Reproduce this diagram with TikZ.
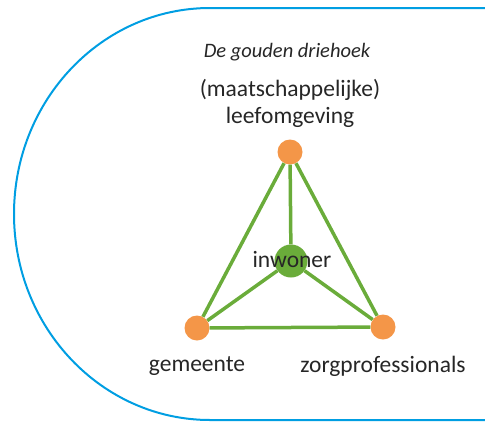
\documentclass[tikz,border=0pt]{standalone}
\usepackage{fontspec}
\setmainfont{Carlito}
\definecolor{bluel}{RGB}{0,158,226}
\definecolor{greenl}{RGB}{106,172,58}
\definecolor{orangel}{RGB}{244,150,72}
\definecolor{txt}{RGB}{38,38,38}
\begin{document}
\begin{tikzpicture}[x=1pt,y=-1pt,
  dot/.style={circle,fill=orangel,inner sep=0pt,minimum size=25pt},
  hub/.style={circle,fill=greenl,inner sep=0pt,minimum size=33pt},
  link/.style={draw=greenl,line width=3.5pt},
  lbl/.style={text=txt,font=\fontsize{23.5}{27}\selectfont,align=center}]
\useasboundingbox (0,0) rectangle (485,421);
\draw[bluel,line width=2pt] (490,8) -- (210,8) arc[start angle=90,end angle=270,x radius=196,y radius=-206] -- (490,420);
\node (top) [dot] at (290,152) {};
\node (left) [dot] at (197,328) {};
\node (right) [dot] at (383,327) {};
\node (mid) [hub] at (291,261) {};
\path[link] (top) -- (left) (top) -- (right) (left) -- (right)
  (mid) -- (top) (mid) -- (left) (mid) -- (right);
\node (title) [text=txt,font=\itshape\fontsize{20.5}{24}\selectfont] at (287,52) {De gouden driehoek};
\node (tl) [lbl] at (290,103) {(maatschappelijke)\\leefomgeving};
\node (ml) [lbl] at (292,259) {inwoner};
\node (gl) [lbl] at (197,366) {gemeente};
\node (zl) [lbl] at (383,366) {zorgprofessionals};
\end{tikzpicture}
\end{document}
